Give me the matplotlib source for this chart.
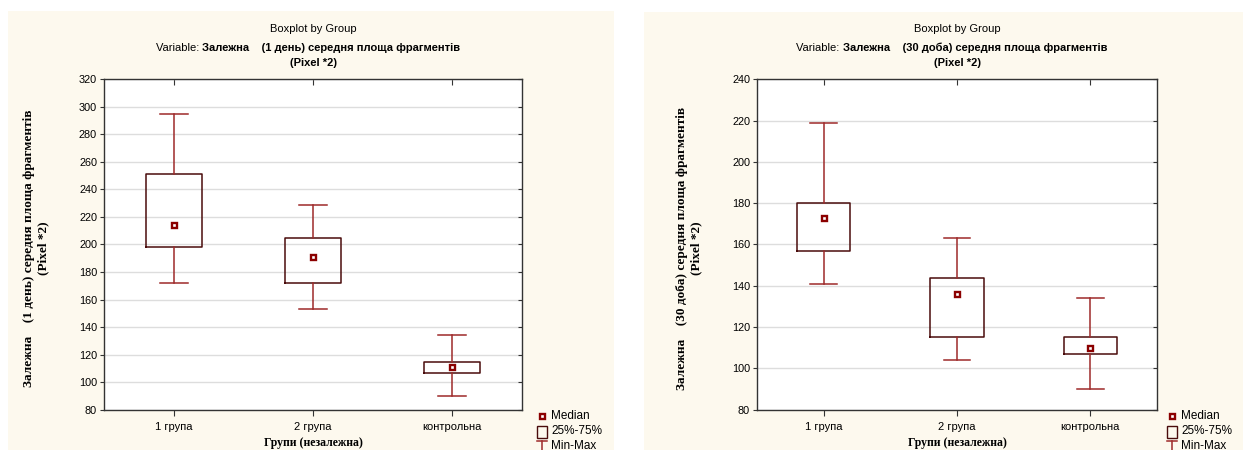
import numpy as np
import matplotlib
matplotlib.use("Agg")
import matplotlib.pyplot as plt
from matplotlib.patches import Rectangle
from matplotlib.lines import Line2D

plt.rcParams['font.family'] = ['Liberation Sans', 'DejaVu Sans']

groups = ["1 група", "2 група", "контрольна"]

# day 1
min1 = [172, 153, 90]
q1_1 = [198, 172, 107]
med1 = [214, 191, 111]
q3_1 = [251, 205, 115]
max1 = [295, 229, 134]

# day 30
min30 = [141, 104, 90]
q1_30 = [157, 115, 107]
med30 = [173, 136, 110]
q3_30 = [180, 144, 115]
max30 = [219, 163, 134]

ylims = [(80, 320), (80, 240)]
periods = ["(1 день)", "(30 доба)"]

W, H = 1243, 450
CREAM = "#fdf9ee"
WHISK = "#9e2a2a"
BOXC = "#4a0c0c"
MEDC = "#8b0000"

fig = plt.figure(figsize=(W / 100, H / 100), dpi=100)
fig.patch.set_facecolor("white")


def px(x, y):
    return x / W, 1 - y / H


# panel backgrounds
for x0, x1, y0 in [(8, 614, 11), (644, 1243, 12)]:
    fig.add_artist(Rectangle(px(x0, H), (x1 - x0) / W, (H - y0) / H,
                             transform=fig.transFigure, facecolor=CREAM,
                             edgecolor="none", zorder=-10))

axes_px = [(104, 522), (757, 1157)]
legend_px = [542, 1172]
data = [(min1, q1_1, med1, q3_1, max1), (min30, q1_30, med30, q3_30, max30)]

for k in range(2):
    xa, xb = axes_px[k]
    l, b = px(xa, 409.7)
    ax = fig.add_axes([l, b, (xb - xa) / W, (409.7 - 79.3) / H])
    ax.set_facecolor("white")
    lo, q1, md, q3, hi = data[k]
    stats = [dict(whislo=lo[i], q1=q1[i], med=md[i], q3=q3[i], whishi=hi[i],
                  fliers=[], label=groups[i]) for i in range(3)]
    pos = np.arange(1, 4)
    ax.bxp(stats, positions=pos, widths=0.4, capwidths=0.2, showfliers=False,
           boxprops=dict(color=BOXC, linewidth=1.1),
           whiskerprops=dict(color=WHISK, linewidth=1.1),
           capprops=dict(color=WHISK, linewidth=1.1),
           medianprops=dict(visible=False))
    ax.plot(pos, md, linestyle="none", marker="s", markersize=3.6,
            markerfacecolor="white", markeredgecolor=MEDC, markeredgewidth=1.7,
            zorder=5)
    ax.set_xlim(0.5, 3.5)
    ax.set_ylim(*ylims[k])
    ax.set_yticks(np.arange(ylims[k][0], ylims[k][1] + 1, 20))
    ax.set_xticks(pos)
    ax.set_xticklabels(groups, fontsize=8)
    ax.yaxis.grid(True, color="#dddddd", linewidth=1)
    ax.set_axisbelow(True)
    ax.tick_params(axis="y", labelsize=7.8, length=3, direction="out",
                   right=True, color="#333333", pad=2)
    ax.tick_params(axis="x", length=4, direction="out", top=True,
                   color="#333333", pad=5)
    for t in ax.xaxis.get_ticklines(minor=False)[1::2]:
        t.set_marker(3)
    for t in ax.yaxis.get_ticklines(minor=False)[1::2]:
        t.set_marker(0)
    for s in ax.spines.values():
        s.set_color("#333333")
        s.set_linewidth(1)

    cx = (xa + xb) / 2
    fig.text(*px(cx, 29), "Boxplot by Group", ha="center", va="center", fontsize=8)
    bold = fig.text(*px(cx + 18, 48),
                    "Залежна    %s середня площа фрагментів" % periods[k],
                    ha="center", va="center", fontsize=8, fontweight="bold")
    ax.annotate("Variable: ", xy=(0, 0), xycoords=bold, ha="right", va="bottom",
                fontsize=8)
    fig.text(*px(cx, 63), "(Pixel *2)", ha="center", va="center", fontsize=8,
             fontweight="bold")

    fig.text(*px(xa - 68, 248),
             "Залежна    %s середня площа фрагментів\n(Pixel *2)" % periods[k],
             rotation=90, ha="center", va="center", multialignment="center",
             fontsize=9.5, fontweight="bold", family="Liberation Serif",
             linespacing=1.2)
    fig.text(*px(cx, 443), "Групи (незалежна)", ha="center", va="center",
             fontsize=8.5, fontweight="bold", family="Liberation Serif")

    # legend
    lx = legend_px[k]
    fig.add_artist(Line2D([lx / W], [1 - 416 / H], marker="s", markersize=3.6,
                          markerfacecolor="white", markeredgecolor=MEDC,
                          markeredgewidth=1.7, linestyle="none",
                          transform=fig.transFigure))
    fig.text(*px(lx + 9, 416), "Median", ha="left", va="center", fontsize=8.5)
    fig.add_artist(Rectangle(px(lx - 5, 438), 10 / W, 12 / H,
                             transform=fig.transFigure, facecolor="none",
                             edgecolor=BOXC, linewidth=1))
    fig.text(*px(lx + 9, 431), "25%-75%", ha="left", va="center", fontsize=8.5)
    fig.add_artist(Line2D([(lx - 5) / W, (lx + 5) / W], [1 - 441 / H] * 2,
                          color=WHISK, linewidth=1.1, transform=fig.transFigure))
    fig.add_artist(Line2D([lx / W] * 2, [1 - 441 / H, 1 - 452 / H],
                          color=WHISK, linewidth=1.1, transform=fig.transFigure))
    fig.text(*px(lx + 9, 446), "Min-Max", ha="left", va="center", fontsize=8.5)

fig.savefig("out.png", dpi=100)
